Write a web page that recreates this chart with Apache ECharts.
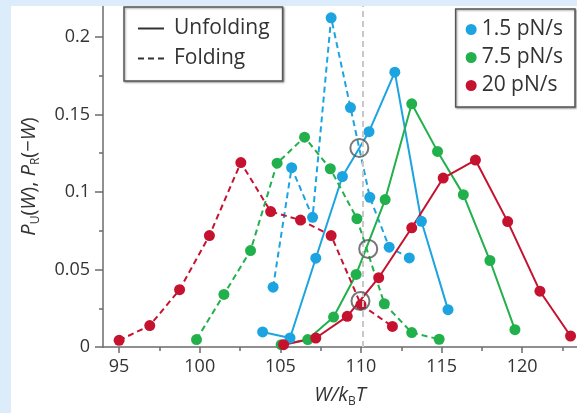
<!DOCTYPE html>
<html>
<head>
<meta charset="utf-8">
<script src="https://cdn.jsdelivr.net/npm/echarts@6/dist/echarts.min.js"></script>
<style>
  html, body { margin: 0; padding: 0; background: #dcecfb; }
  #chart { position: absolute; left: 11px; top: 6px; width: 566px; height: 407px; background: #fff; }
</style>
</head>
<body>
<div id="chart"></div>
<script>
// tick labels
var xTicks = [95, 100, 105, 110, 115, 120];
var xMinor = [97.5, 102.5, 107.5, 112.5, 117.5, 122.5];
var yTicks = [0, 0.05, 0.1, 0.15, 0.2];
var yMinor = [0.025, 0.075, 0.125, 0.175];

// 1.5 pN/s
var wUnfold15 = [103.9, 105.6, 107.2, 108.85, 110.5, 112.1, 113.75, 115.4];
var pUnfold15 = [0.0097, 0.0058, 0.0573, 0.110, 0.1389, 0.1773, 0.0811, 0.0241];
var wFold15 = [104.55, 105.7, 107.0, 108.15, 109.35, 110.55, 111.75, 113.0];
var pFold15 = [0.0386, 0.1157, 0.0837, 0.2124, 0.1545, 0.0966, 0.0644, 0.0575];
// 7.5 pN/s
var wUnfold75 = [105.05, 106.7, 108.3, 109.7, 111.5, 113.15, 114.75, 116.35, 118.0, 119.55];
var pUnfold75 = [0.0015, 0.0048, 0.0193, 0.0468, 0.0951, 0.1569, 0.1262, 0.0983, 0.0558, 0.0112];
var wFold75 = [99.8, 101.5, 103.15, 104.8, 106.5, 108.1, 109.75, 111.45, 113.15, 114.85];
var pFold75 = [0.0048, 0.0339, 0.0622, 0.1186, 0.1354, 0.115, 0.0828, 0.0279, 0.0093, 0.005];
// 20 pN/s
var wUnfold20 = [105.2, 107.2, 109.15, 111.1, 113.15, 115.1, 117.1, 119.1, 121.1, 123.0];
var pUnfold20 = [0.0015, 0.0058, 0.0198, 0.0447, 0.0769, 0.109, 0.1206, 0.0809, 0.036, 0.0071];
var wFold20 = [95.0, 96.9, 98.75, 100.6, 102.55, 104.4, 106.25, 108.15, 110.0, 111.95];
var pFold20 = [0.0043, 0.0138, 0.037, 0.0719, 0.119, 0.0874, 0.0819, 0.0719, 0.0273, 0.0133];
// crossing points
var wCross = [109.9, 110.45, 109.97];
var pCross = [0.1284, 0.0633, 0.0296];
var wGuide = 110.1;

var rates = ['1.5 pN/s', '7.5 pN/s', '20 pN/s'];
var colors = ['#1ca4e0', '#22b04c', '#c4122f'];
var font = '"Open Sans", "Noto Sans", sans-serif';
var txt = '#333';

function pairs(xs, ys) {
    var out = [];
    for (var i = 0; i < xs.length; i++) out.push([xs[i], ys[i]]);
    return out;
}

function curve(name, color, xs, ys, dashed) {
    return {
        name: name,
        type: 'line',
        data: pairs(xs, ys),
        symbol: 'circle',
        symbolSize: 11,
        itemStyle: { color: color },
        lineStyle: { color: color, width: 2, type: dashed ? [6, 4] : 'solid' },
        z: 3
    };
}

var chartDom = document.getElementById('chart');
var myChart = echarts.init(chartDom);
var option;

var series = [
    curve(rates[0], colors[0], wUnfold15, pUnfold15, false),
    curve(rates[0], colors[0], wFold15, pFold15, true),
    curve(rates[1], colors[1], wUnfold75, pUnfold75, false),
    curve(rates[1], colors[1], wFold75, pFold75, true),
    curve(rates[2], colors[2], wUnfold20, pUnfold20, false),
    curve(rates[2], colors[2], wFold20, pFold20, true),
    // legend only
    { name: 'Unfolding', type: 'line', data: [], symbol: 'none', itemStyle: { color: 'rgba(0,0,0,0)' }, lineStyle: { color: '#333', width: 2 } },
    { name: 'Folding', type: 'line', data: [], symbol: 'none', itemStyle: { color: 'rgba(0,0,0,0)' }, lineStyle: { color: '#333', width: 2, type: [6, 4] } },
    // guide line
    {
        type: 'line', data: [], z: 1,
        markLine: {
            silent: true, symbol: ['none', 'none'], label: { show: false },
            lineStyle: { color: '#c8c8c8', width: 2, type: [6, 4] },
            data: [{ xAxis: wGuide }]
        }
    },
    // open circles at crossings
    {
        type: 'scatter',
        data: pairs(wCross, pCross),
        symbol: 'circle',
        symbolSize: 18,
        itemStyle: { color: 'rgba(0,0,0,0)', borderColor: '#555', borderWidth: 2 },
        z: 5
    }
];

option = {
    animation: false,
    textStyle: { fontFamily: font },
    grid: { left: 89, top: 0, right: 0, bottom: 66, containLabel: false },
    legend: [
        {
            data: [
                { name: 'Unfolding', itemStyle: { color: 'rgba(0,0,0,0)', borderWidth: 0 } },
                { name: 'Folding', itemStyle: { color: 'rgba(0,0,0,0)', borderWidth: 0 } }
            ],
            orient: 'vertical',
            left: 113, top: 1,
            itemWidth: 26, itemHeight: 14, itemGap: 9,
            padding: [11, 13, 12, 13],
            backgroundColor: '#fff',
            borderColor: '#555', borderWidth: 1.5, borderRadius: 0,
            shadowColor: 'rgba(0,0,0,0.35)', shadowBlur: 2, shadowOffsetX: 1, shadowOffsetY: 1,
            selectedMode: false,
            textStyle: { fontSize: 21, color: txt, fontFamily: font, padding: [0, 0, 0, 5] }
        },
        {
            data: rates.map(function (r) { return { name: r, icon: 'circle' }; }),
            orient: 'vertical',
            right: 2, top: 3,
            itemWidth: 11, itemHeight: 11, itemGap: 7,
            padding: [10, 12, 11, 10],
            backgroundColor: '#fff',
            borderColor: '#555', borderWidth: 1.5, borderRadius: 0,
            shadowColor: 'rgba(0,0,0,0.35)', shadowBlur: 2, shadowOffsetX: 1, shadowOffsetY: 1,
            selectedMode: false,
            textStyle: { fontSize: 21, color: txt, fontFamily: font }
        }
    ],
    xAxis: [
        {
            type: 'value', min: 94, max: 123.4,
            splitLine: { show: false },
            axisLine: { lineStyle: { color: '#6b6b6b', width: 1.5 } },
            axisTick: { inside: false, length: 6, customValues: xTicks, lineStyle: { color: '#6b6b6b', width: 1.5 } },
            axisLabel: { customValues: xTicks, fontSize: 18, color: txt, margin: 11 },
            name: '{i|W/k}{s|B}{i|T}',
            nameLocation: 'middle',
            nameGap: 35,
            nameTextStyle: {
                rich: {
                    i: { fontSize: 20, fontStyle: 'italic', color: txt, fontFamily: font, lineHeight: 26, verticalAlign: 'middle' },
                    s: { fontSize: 12, color: txt, fontFamily: font, lineHeight: 14, verticalAlign: 'bottom' }
                }
            }
        },
        {
            type: 'value', min: 94, max: 123.4, position: 'bottom',
            splitLine: { show: false },
            axisLine: { show: false },
            axisTick: { inside: false, length: 4, customValues: xMinor, lineStyle: { color: '#6b6b6b', width: 1.5 } },
            axisLabel: { show: false }
        }
    ],
    yAxis: [
        {
            type: 'value', min: 0, max: 0.22,
            splitLine: { show: false },
            axisLine: { show: true, lineStyle: { color: '#6b6b6b', width: 1.5 } },
            axisTick: { show: true, inside: false, length: 8, customValues: yTicks, lineStyle: { color: '#6b6b6b', width: 1.5 } },
            axisLabel: { customValues: yTicks, fontSize: 18, color: txt, margin: 13 },
            name: '{i|P}{s|U}{n|(}{i|W}{n|), }{i|P}{s|R}{n|(\u2212}{i|W}{n|)}',
            nameLocation: 'middle',
            nameGap: 61,
            nameTextStyle: {
                rich: {
                    i: { fontSize: 20, fontStyle: 'italic', color: txt, fontFamily: font, lineHeight: 26, verticalAlign: 'middle' },
                    n: { fontSize: 20, color: txt, fontFamily: font, lineHeight: 26, verticalAlign: 'middle' },
                    s: { fontSize: 12, color: txt, fontFamily: font, lineHeight: 14, verticalAlign: 'bottom' }
                }
            }
        },
        {
            type: 'value', min: 0, max: 0.22, position: 'left',
            splitLine: { show: false },
            axisLine: { show: false },
            axisTick: { show: true, inside: false, length: 4, customValues: yMinor, lineStyle: { color: '#6b6b6b', width: 1.5 } },
            axisLabel: { show: false }
        }
    ],
    series: series
};
option && myChart.setOption(option);
</script>
</body>
</html>
